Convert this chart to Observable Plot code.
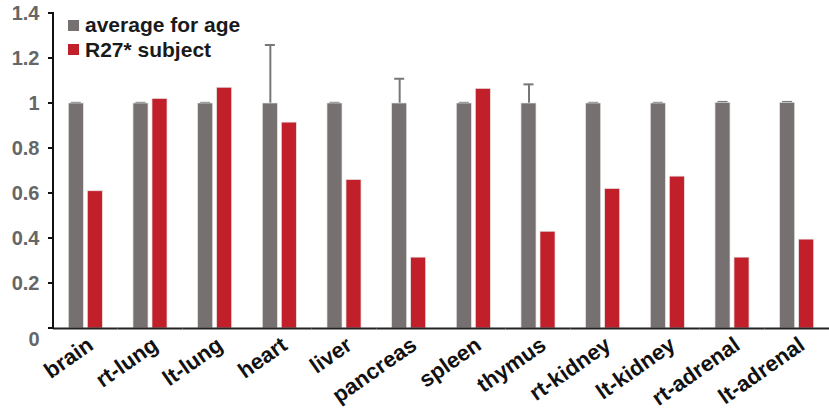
<!DOCTYPE html>
<html>
<head>
<meta charset="utf-8">
<script src="https://cdn.jsdelivr.net/npm/d3@7"></script>
<script src="https://cdn.jsdelivr.net/npm/@observablehq/plot@0.6"></script>
<style>
  html, body { margin: 0; padding: 0; background: #fff; }
  #wrap { position: relative; width: 829px; height: 414px; font-family: "Liberation Sans", Arial, sans-serif; }
  .leg { position: absolute; display: flex; align-items: center; font-weight: bold; font-size: 21px; line-height: 24px; color: #1a1a1a; }
  .leg span.sw { display: inline-block; width: 11px; height: 11px; margin-right: 6px; }
</style>
</head>
<body>
<div id="wrap"></div>
<script>
const organs = ["brain","rt-lung","lt-lung","heart","liver","pancreas","spleen","thymus","rt-kidney","lt-kidney","rt-adrenal","lt-adrenal"];
const average = [1,1,1,1,1,1,1,1,1,1,1.003,1.003];
const averageErr = [0.003,0.003,0.003,0.26,0.003,0.11,0.003,0.085,0.003,0.003,0.004,0.004];
const subject = [0.61,1.02,1.07,0.915,0.66,0.315,1.065,0.43,0.62,0.675,0.315,0.395];
const seriesNames = ["average for age","R27* subject"];
const colors = ["#767170","#c1202a"];
const yTicks = [0,0.2,0.4,0.6,0.8,1,1.2,1.4];

const rows = [];
organs.forEach((o,i) => {
  rows.push({organ:o, series:seriesNames[0], value:average[i], err:averageErr[i]});
  rows.push({organ:o, series:seriesNames[1], value:subject[i], err:0});
});
const errRows = rows.filter(d => d.err > 0);

const font = "'Liberation Sans', Arial, sans-serif";
const mL = 53;

const chart = Plot.plot({
  width: 829, height: 414,
  marginLeft: mL, marginRight: 0, marginTop: 13, marginBottom: 86,
  style: {fontFamily: font, background: "white"},
  fx: {domain: organs, padding: 0, round: false, label: null, axis: null},
  x: {domain: seriesNames, paddingInner: 0.21, paddingOuter: 0.807, round: false, axis: null},
  y: {domain: [0, 1.4], label: null, axis: null},
  color: {domain: seriesNames, range: colors},
  marks: [
    Plot.ruleX(errRows, {fx:"organ", x:"series", y1:"value", y2: d => d.value + d.err, stroke:"#777", strokeWidth:2}),
    Plot.tickY(errRows, {fx:"organ", x:"series", y: d => d.value + d.err, stroke:"#777", strokeWidth:2, inset:2.5}),
    Plot.barY(rows, {fx:"organ", x:"series", y:"value", fill:"series", stroke:"#e4e4e4", strokeWidth:0.7}),
    Plot.ruleY([0], {stroke:"#222", strokeWidth:2}),
    Plot.axisY({ticks: yTicks, tickSize: 0, tickPadding: 14, tickFormat: d => d === 0 ? "" : d3.format("")(+d.toFixed(1)), fontSize: 20, fontWeight: "bold", fill: "#666", label: null}),
    Plot.text([{organ: organs[0], y: 0, t: "0"}], {fx:"organ", y:"y", text:"t", frameAnchor:"left", textAnchor:"end", dx:-14, dy:11, fontSize:20, fontWeight:"bold", fill:"#666"}),
    Plot.axisFx({anchor: "bottom", tickRotate: -35, tickSize: 0, tickPadding: 14, dx: 5, fontSize: 22, fontWeight: "bold", fill: "#111", label: null})
  ]
});

// y axis line and outward ticks, placed through the chart's own y scale
const yScale = chart.scale("y");
const svg = d3.select(chart.tagName.toLowerCase() === "svg" ? chart : chart.querySelector("svg"));
const g = svg.append("g").attr("stroke", "#111").attr("stroke-width", 2);
g.append("line").attr("x1", mL).attr("x2", mL)
  .attr("y1", yScale.apply(yScale.domain[1]) - 1).attr("y2", yScale.apply(0) + 1);
yTicks.forEach(t => {
  g.append("line").attr("x1", mL - 5).attr("x2", mL)
    .attr("y1", yScale.apply(t)).attr("y2", yScale.apply(t));
});

const wrap = document.getElementById("wrap");
wrap.appendChild(chart);
seriesNames.forEach((s, i) => {
  const el = document.createElement("div");
  el.className = "leg";
  el.style.left = "68px";
  el.style.top = (13 + i * 24.5) + "px";
  el.innerHTML = `<span class="sw" style="background:${colors[i]}"></span>${s}`;
  wrap.appendChild(el);
});
</script>
</body>
</html>
